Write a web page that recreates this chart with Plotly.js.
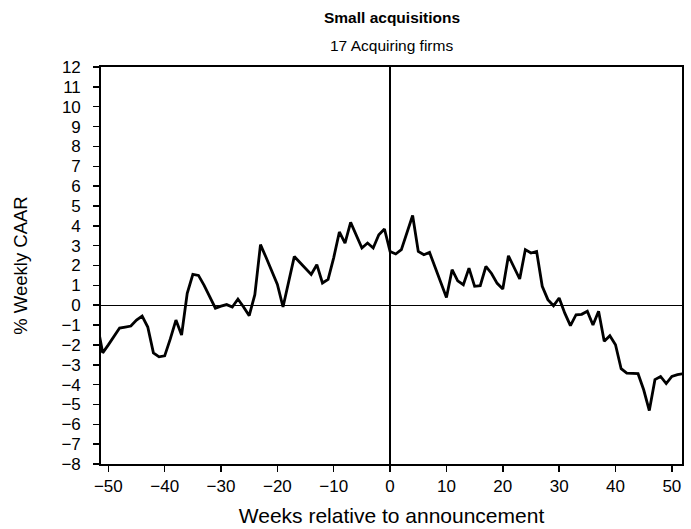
<!DOCTYPE html>
<html>
<head>
<meta charset="utf-8">
<script src="https://cdn.plot.ly/plotly-3.0.1.min.js"></script>
<style>html,body{margin:0;padding:0;background:#fff;}#chart{width:691px;height:529px;}</style>
</head>
<body>
<div id="chart"></div>
<script>
const weeks = [-52,-51,-50,-49,-48,-47,-46,-45,-44,-43,-42,-41,-40,-39,-38,-37,-36,-35,-34,-33,-32,-31,-30,-29,-28,-27,-26,-25,-24,-23,-22,-21,-20,-19,-18,-17,-16,-15,-14,-13,-12,-11,-10,-9,-8,-7,-6,-5,-4,-3,-2,-1,0,1,2,3,4,5,6,7,8,9,10,11,12,13,14,15,16,17,18,19,20,21,22,23,24,25,26,27,28,29,30,31,32,33,34,35,36,37,38,39,40,41,42,43,44,45,46,47,48,49,50,51,52];
const caar = [-0.9,-2.4,-2.0,-1.6,-1.15,-1.1,-1.05,-0.75,-0.55,-1.1,-2.4,-2.6,-2.55,-1.7,-0.75,-1.5,0.6,1.55,1.5,1.0,0.4,-0.15,-0.05,0.03,-0.09,0.31,-0.09,-0.53,0.53,3.05,2.4,1.75,1.05,-0.09,1.2,2.45,2.15,1.85,1.55,2.04,1.12,1.3,2.4,3.69,3.13,4.17,3.5,2.88,3.13,2.88,3.55,3.84,2.71,2.58,2.8,3.64,4.52,2.71,2.54,2.66,1.9,1.15,0.39,1.79,1.23,1.03,1.87,0.95,0.98,1.95,1.6,1.1,0.82,2.49,1.9,1.32,2.8,2.63,2.71,0.95,0.28,-0.03,0.36,-0.4,-1.03,-0.48,-0.46,-0.3,-1.0,-0.3,-1.82,-1.54,-1.99,-3.2,-3.42,-3.45,-3.45,-4.26,-5.31,-3.75,-3.59,-3.95,-3.59,-3.5,-3.45];
const xTicks = [-50,-40,-30,-20,-10,0,10,20,30,40,50];
const yTicks = [-8,-7,-6,-5,-4,-3,-2,-1,0,1,2,3,4,5,6,7,8,9,10,11,12];
const chartTitle = 'Small acquisitions';
const chartSubtitle = '17 Acquiring firms';
const xLabel = 'Weeks relative to announcement';
const yLabel = '% Weekly CAAR';

const fam = 'Liberation Sans, Arial, sans-serif';

const trace = {
  x: weeks, y: caar, type: 'scatter', mode: 'lines',
  line: {color: '#000', width: 2.8, shape: 'linear'},
  hoverinfo: 'skip'
};

const layout = {
  width: 691, height: 529,
  margin: {l: 101, r: 9, t: 67, b: 65, pad: 0},
  paper_bgcolor: '#fff', plot_bgcolor: '#fff',
  font: {family: fam, size: 16, color: '#000'},
  showlegend: false,
  xaxis: {
    range: [-51.3, 51.8], tickvals: xTicks, ticks: 'outside', ticklen: 6, tickwidth: 1.5, tickcolor: '#000',
    showline: true, linecolor: '#000', linewidth: 1.8, mirror: true, showgrid: false,
    zeroline: true, zerolinecolor: '#000', zerolinewidth: 1.2,
    tickfont: {family: fam, size: 17, color: '#000'}, ticklabelstandoff: 0,
    title: {text: xLabel, font: {family: fam, size: 21, color: '#000'}, standoff: 13}
  },
  yaxis: {
    range: [-8, 12], tickvals: yTicks, ticks: 'outside', ticklen: 6, tickwidth: 1.5, tickcolor: '#000',
    showline: true, linecolor: '#000', linewidth: 1.8, mirror: true, showgrid: false,
    zeroline: true, zerolinecolor: '#000', zerolinewidth: 1.2,
    tickfont: {family: fam, size: 17, color: '#000'}, ticklabelstandoff: 9,
    title: {text: yLabel, font: {family: fam, size: 18.5, color: '#000'}, standoff: 29}
  },
  annotations: [
    {text: '<b>' + chartTitle + '</b>', xref: 'paper', yref: 'paper', x: 0.5, y: 1, yshift: 50, showarrow: false, font: {family: fam, size: 15.5, color: '#000'}, xanchor: 'center', yanchor: 'middle'},
    {text: chartSubtitle, xref: 'paper', yref: 'paper', x: 0.5, y: 1, yshift: 22, showarrow: false, font: {family: fam, size: 15.5, color: '#000'}, xanchor: 'center', yanchor: 'middle'}
  ]
};

Plotly.newPlot('chart', [trace], layout, {staticPlot: true, displayModeBar: false});
</script>
</body>
</html>
